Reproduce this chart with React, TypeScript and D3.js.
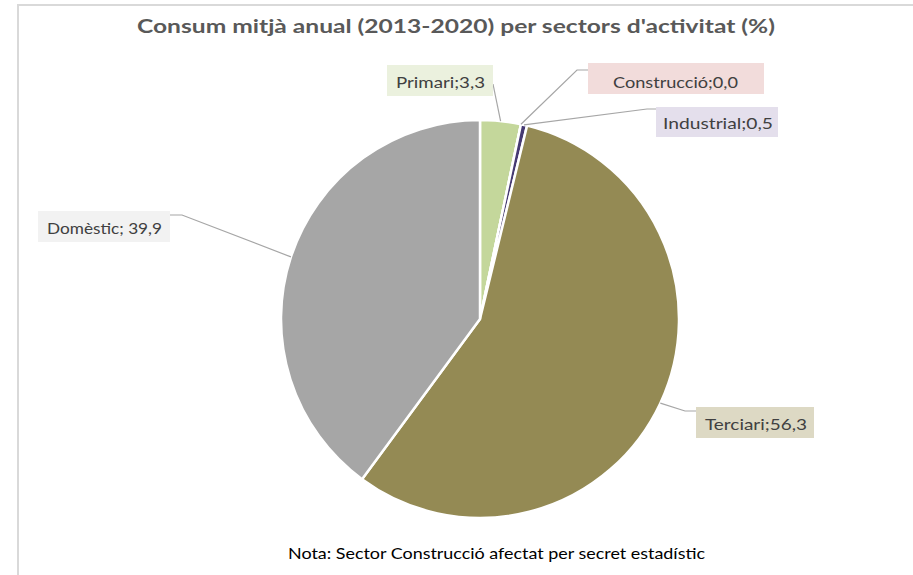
import React from "react";
import * as d3 from "d3";

const sectors = ["Primari", "Construcció", "Industrial", "Terciari", "Domèstic"];
const values = [3.3, 0.0, 0.5, 56.3, 39.9];
const sliceColors = ["#c4d79b", "#f2dcdb", "#463a72", "#948a54", "#a6a6a6"];
const labelBg = ["#ebf1de", "#f2dcdb", "#e4dfec", "#ddd9c4", "#f2f2f2"];
const title = "Consum mitjà anual (2013-2020) per sectors d'activitat (%)";
const note = "Nota: Sector Construcció afectat per secret estadístic";

// label layout: box [x, y, w, h], text [x, baseline, length], elbow and end of leader line
const labelBoxes = [
  [387, 65, 106, 31],
  [588, 63, 176, 31],
  [656, 107, 122, 30],
  [696, 407, 118, 31],
  [38, 211, 132, 31],
];
const labelText = [
  [396, 88, 89],
  [613, 88, 125],
  [663, 129, 110],
  [705, 430, 102],
  [47, 234, 115],
];
const leaderPts = [
  [[493, 84]],
  [[577, 70], [588, 70]],
  [[647, 109], [656, 109]],
  [[685, 411], [696, 411]],
  [[182, 215], [170, 215]],
];

const W = 913;
const H = 575;
const cx = 480;
const cy = 319;
const R = 199;

const fmt = (v: number) => v.toFixed(1).replace(".", ",");

export default function App() {
  const pie = d3
    .pie<number>()
    .sort(null)
    .value((d) => d)
    .startAngle(0)
    .endAngle(2 * Math.PI);
  const arcs = pie(values);
  const arcGen = d3.arc<d3.PieArcDatum<number>>().innerRadius(0).outerRadius(R);

  return (
    <svg
      width={W}
      height={H}
      style={{ position: "absolute", left: 0, top: 0, background: "#fff" }}
      fontFamily="Lato, 'Noto Sans', sans-serif"
    >
      <rect x={0} y={0} width={W} height={H} fill="#fff" />
      <rect x={18} y={5} width={W + 20} height={H + 20} fill="#fff" stroke="#d9d9d9" strokeWidth={2} />
      <text
        x={137}
        y={32.5}
        fontSize={19}
        fontWeight="bold"
        fill="#595959"
        textLength={638}
        lengthAdjust="spacingAndGlyphs"
      >
        {title}
      </text>
      <g transform={`translate(${cx},${cy})`}>
        {arcs.map((a, i) => (
          <path key={i} d={arcGen(a) || ""} fill={sliceColors[i]} stroke="#fff" strokeWidth={2.5} strokeLinejoin="round" />
        ))}
      </g>
      {arcs.map((a, i) => {
        const mid = (a.startAngle + a.endAngle) / 2;
        const ax = cx + R * Math.sin(mid);
        const ay = cy - R * Math.cos(mid);
        const pts = [[ax, ay], ...leaderPts[i]];
        const line = d3.line()(pts as [number, number][]) || "";
        return <path key={"l" + i} d={line} fill="none" stroke="#a6a6a6" strokeWidth={1.2} />;
      })}
      {sectors.map((s, i) => {
        const [bx, by, bw, bh] = labelBoxes[i];
        const [tx, ty, tl] = labelText[i];
        return (
          <g key={"b" + i}>
            <rect x={bx} y={by} width={bw} height={bh} fill={labelBg[i]} />
            <text x={tx} y={ty} fontSize={16} fill="#404040" textLength={tl} lengthAdjust="spacingAndGlyphs">
              {`${s};${i === 4 ? " " : ""}${fmt(values[i])}`}
            </text>
          </g>
        );
      })}
      <text x={288} y={559} fontSize={15} fill="#000" textLength={417} lengthAdjust="spacingAndGlyphs">
        {note}
      </text>
    </svg>
  );
}
